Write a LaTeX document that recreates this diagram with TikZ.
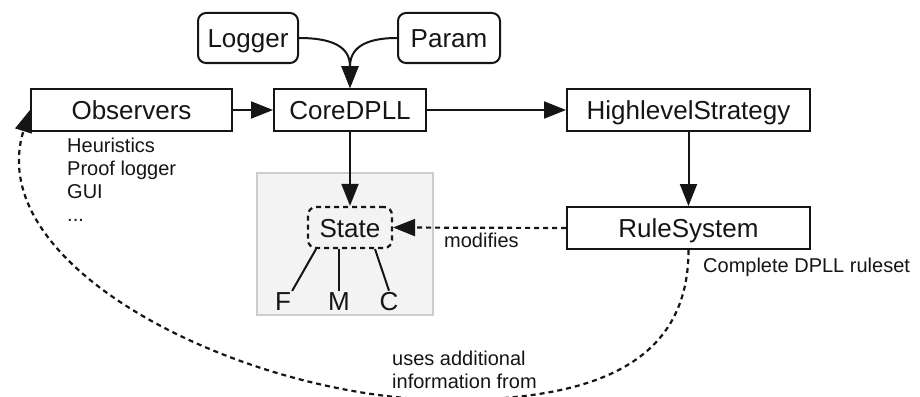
\documentclass[tikz,border=0pt]{standalone}
\usepackage{fontspec}
\setmainfont{Liberation Sans}
\usetikzlibrary{arrows.meta,calc}
\definecolor{ink}{HTML}{151515}
\definecolor{grpfill}{HTML}{F3F3F3}
\definecolor{grpline}{HTML}{CDCDCD}
\begin{document}
\begin{tikzpicture}[x=1pt,y=-1pt,
  every node/.style={text=ink},
  big/.style={font=\fontsize{26}{30}\selectfont},
  small/.style={font=\fontsize{20}{23}\selectfont, inner sep=0pt},
  box/.style={draw=ink, line width=2pt, big, minimum height=42pt, inner sep=0pt, text height=19pt, text depth=0pt},
  rbox/.style={box, rounded corners=8pt, minimum height=50pt},
  arr/.style={draw=ink, line width=2pt, -{Triangle[length=22pt,width=17pt]}},
  leg/.style={draw=ink, line width=2pt},
  dsh/.style={line width=2.2pt, dash pattern=on 5pt off 4pt}
]
\useasboundingbox (0,0) rectangle (920,396);
\clip (0,0) rectangle (920,396);

% group background
\node[draw=grpline, fill=grpfill, line width=1.8pt, minimum width=176pt, minimum height=142pt, inner sep=0pt] (grp) at (345,244) {};

% main nodes
\node[box, minimum width=201pt] (obs) at (131.5,110) {Observers};
\node[box, minimum width=152pt] (core) at (350,110) {CoreDPLL};
\node[box, minimum width=243pt] (hls) at (688.5,110) {HighlevelStrategy};
\node[box, minimum width=243pt] (rs) at (688.5,228) {RuleSystem};
\node[rbox, minimum width=100pt] (logger) at (248,38) {Logger};
\node[rbox, minimum width=102pt] (param) at (449,38) {Param};
\node[box, dsh, rounded corners=8pt, minimum width=84pt, minimum height=41pt] (state) at (350,227.5) {State};

% state components
\node[big, inner sep=1pt, anchor=base] (f) at (283,310) {F};
\node[big, inner sep=1pt, anchor=base] (m) at (339,310) {M};
\node[big, inner sep=1pt, anchor=base] (c) at (389,310) {C};

% labels
\node[small, anchor=base west] (h1) at (67,152) {Heuristics};
\node[small, anchor=base west] (h2) at (67,175) {Proof logger};
\node[small, anchor=base west] (h3) at (67,198) {GUI};
\node[small, anchor=base west] (h4) at (67,221) {...};
\node[small, anchor=base west] (mod) at (444,247) {modifies};
\node[small, anchor=base west] (cdr) at (703,272) {Complete DPLL ruleset};
\node[small, anchor=base west] (u1) at (392,365) {uses additional};
\node[small, anchor=base west] (u2) at (392,388) {information from};

% connectors
\draw[arr] (logger.east) .. controls (338,38) and (350,50) .. (core.north);
\draw[arr] (param.west) .. controls (362,38) and (350,50) .. (core.north);
\draw[arr] (obs.east) -- (core.west);
\draw[arr] (core.east) -- (hls.west);
\draw[arr] (core.south) -- (state.north);
\draw[arr] (hls.south) -- (rs.north);
\draw[arr, dsh] (rs.west) -- (state.east);
\draw[arr, dsh] (rs.south) .. controls (688.5,360) and (600,400) .. (450,400)
  .. controls (250,400) and (-20,270) .. (obs.west);

\draw[leg] ($(state.south)+(-34,0)$) -- (f.north east);
\draw[leg] (state.south -| m.north) -- (m.north);
\draw[leg] ($(state.south)+(25,0)$) -- (c.north);
\end{tikzpicture}
\end{document}
